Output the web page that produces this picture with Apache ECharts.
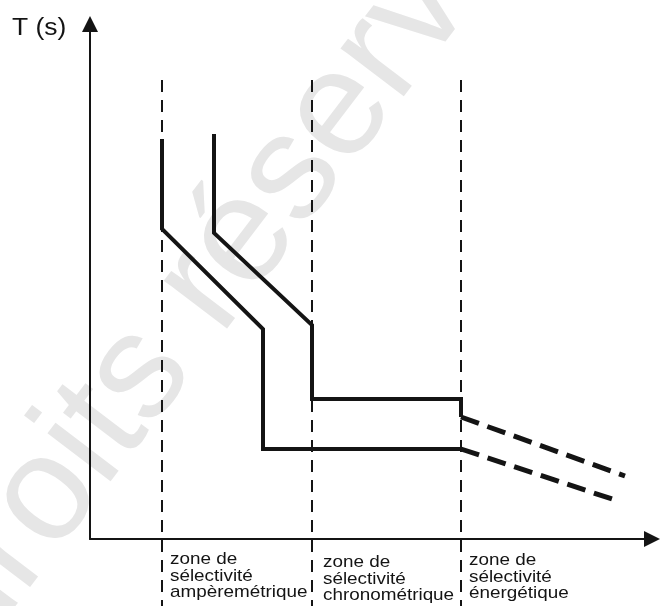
<!DOCTYPE html>
<html>
<head>
<meta charset="utf-8">
<title>Zones de sélectivité</title>
<script src="https://cdn.jsdelivr.net/npm/echarts@6/dist/echarts.min.js"></script>
<style>
  html, body { margin: 0; padding: 0; background: #fff; }
  #chart { width: 669px; height: 606px; }
</style>
</head>
<body>
<div id="chart"></div>
<script>
// courbe du disjoncteur aval (I, T)
const curveDownstream = [[14.4, 80], [14.4, 62], [34.6, 42], [34.6, 18], [74.2, 18]];
const tailDownstream = [[74.2, 18], [105, 7.8]];
// courbe du disjoncteur amont
const curveUpstream = [[24.8, 81], [24.8, 61.2], [44.4, 42.8], [44.4, 28], [74.2, 28], [74.2, 24.4]];
const tailUpstream = [[74.2, 24.4], [107, 12.6]];
// limites des zones
const zoneLimits = [14.4, 44.4, 74.2];
const zoneTop = 91.8;
const zoneBottom = -14;
const zoneNames = [
  'zone de\nsélectivité\nampèremétrique',
  'zone de\nsélectivité\nchronométrique',
  'zone de\nsélectivité\nénergétique'
];

const chart = echarts.init(document.getElementById('chart'));
const ink = '#141414';

// séries : limites pointillées, courbes pleines, prolongements tiretés
const series = [];
zoneLimits.forEach(function (x) {
  series.push({
    type: 'line',
    data: [[x, zoneTop], [x, zoneBottom]],
    showSymbol: false,
    clip: false,
    silent: true,
    z: 1,
    lineStyle: { color: ink, width: 2, type: [12, 8] }
  });
});
[curveDownstream, curveUpstream].forEach(function (d) {
  series.push({
    type: 'line',
    data: d,
    showSymbol: false,
    z: 3,
    lineStyle: { color: ink, width: 4, join: 'miter', cap: 'butt' }
  });
});
[tailDownstream, tailUpstream].forEach(function (d) {
  series.push({
    type: 'line',
    data: d,
    showSymbol: false,
    clip: false,
    z: 3,
    lineStyle: { color: ink, width: 5, type: [19, 9], cap: 'butt' }
  });
});

// textes un peu élargis comme sur l'original
const colLeft = [170, 323, 469];
const colTop = [551, 554, 552];
const labels = zoneNames.map(function (t, i) {
  return {
    type: 'text',
    x: colLeft[i],
    y: colTop[i],
    scaleX: 1.11,
    style: {
      text: t,
      font: '17px "Liberation Sans"',
      lineHeight: 16.7,
      fill: ink,
      align: 'left',
      verticalAlign: 'top'
    }
  };
});

const option = {
  animation: false,
  backgroundColor: '#fff',
  grid: { left: 90, right: 17, top: 24, bottom: 67 },
  xAxis: {
    type: 'value', min: 0, max: 112.4,
    axisLine: { onZero: false, symbol: ['none', 'triangle'], symbolSize: [16, 16],
      lineStyle: { color: ink, width: 2 } },
    axisTick: { show: false }, axisLabel: { show: false }, splitLine: { show: false }
  },
  yAxis: {
    type: 'value', min: 0, max: 103,
    axisLine: { show: true, onZero: false, symbol: ['none', 'triangle'], symbolSize: [16, 16],
      lineStyle: { color: ink, width: 2 } },
    axisTick: { show: false }, axisLabel: { show: false }, splitLine: { show: false }
  },
  graphic: [
    {
      type: 'text',
      x: 0, y: 682,
      rotation: 0.92,
      z: -10,
      silent: true,
      style: { text: 'droits réservés', font: '150px "Liberation Sans"', fill: '#e6e6e6',
        verticalAlign: 'bottom' }
    },
    {
      type: 'text',
      x: 12, y: 40,
      scaleX: 1.15,
      style: { text: 'T (s)', font: '23px "Liberation Sans"', fill: ink,
        align: 'left', verticalAlign: 'bottom' }
    }
  ].concat(labels),
  series: series
};
chart.setOption(option);
</script>
</body>
</html>
